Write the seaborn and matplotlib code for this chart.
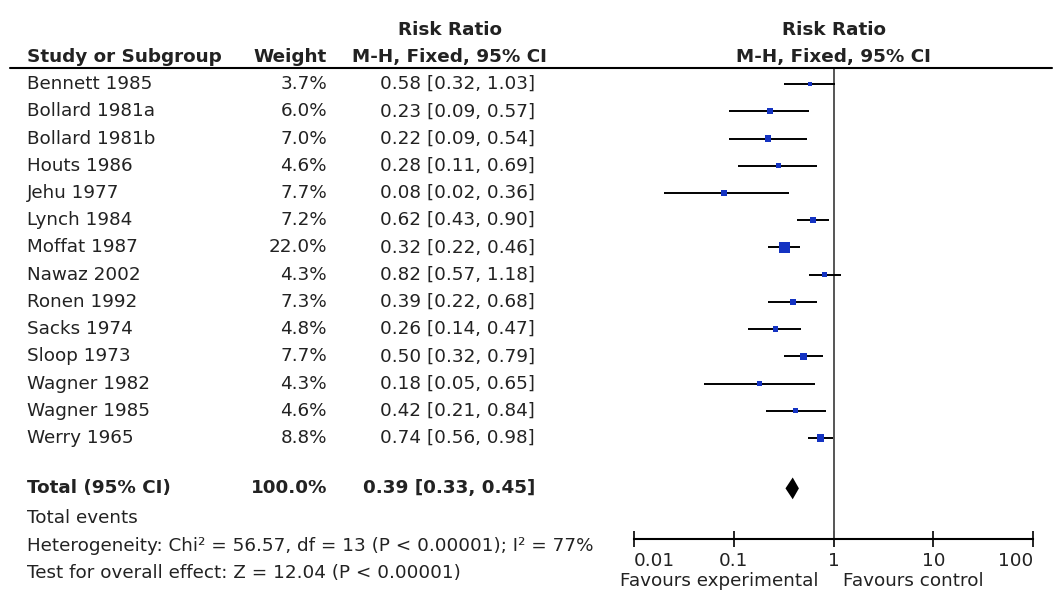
import numpy as np
import matplotlib.pyplot as plt
import matplotlib.transforms as mtransforms
from matplotlib.lines import Line2D
import pandas as pd
import seaborn as sns

# ------------------------------------------------------------
# data
# ------------------------------------------------------------
studies = ["Bennett 1985", "Bollard 1981a", "Bollard 1981b", "Houts 1986",
           "Jehu 1977", "Lynch 1984", "Moffat 1987", "Nawaz 2002",
           "Ronen 1992", "Sacks 1974", "Sloop 1973", "Wagner 1982",
           "Wagner 1985", "Werry 1965"]
weights = [3.7, 6.0, 7.0, 4.6, 7.7, 7.2, 22.0, 4.3, 7.3, 4.8, 7.7, 4.3, 4.6, 8.8]
rr = [0.58, 0.23, 0.22, 0.28, 0.08, 0.62, 0.32, 0.82, 0.39, 0.26, 0.50, 0.18, 0.42, 0.74]
ci_low = [0.32, 0.09, 0.09, 0.11, 0.02, 0.43, 0.22, 0.57, 0.22, 0.14, 0.32, 0.05, 0.21, 0.56]
ci_high = [1.03, 0.57, 0.54, 0.69, 0.36, 0.90, 0.46, 1.18, 0.68, 0.47, 0.79, 0.65, 0.84, 0.98]

total_weight = 100.0
total_rr, total_low, total_high = 0.39, 0.33, 0.45

tick_values = [0.01, 0.1, 1, 10, 100]
tick_labels = ["0.01", "0.1", "1", "10", "100"]

heterogeneity = "Heterogeneity: Chi\u00b2 = 56.57, df = 13 (P < 0.00001); I\u00b2 = 77%"
overall_effect = "Test for overall effect: Z = 12.04 (P < 0.00001)"

df = pd.DataFrame({"study": studies, "weight": weights, "rr": rr,
                   "lo": ci_low, "hi": ci_high})
df["row"] = np.arange(len(df))
total_row = 14.85

# ------------------------------------------------------------
# style
# ------------------------------------------------------------
sns.set_theme(style="white")
plt.rcParams["font.family"] = ["DejaVu Sans"]
TXT = "#222222"
FS = 13.2
BLUE = "#1433c2"

W, H = 1062, 605
fig = plt.figure(figsize=(W / 100, H / 100), dpi=100)

def fx(px):
    return px / W

def fy(py):
    return 1 - py / H

ax = fig.add_axes([fx(634), fy(539), fx(1033) - fx(634), fy(68) - fy(539)])

# confidence intervals + weighted squares
ax.hlines(df["row"], df["lo"], df["hi"], color="black", lw=1.4, zorder=2)
sns.scatterplot(data=df, x="rr", y="row", size="weight", sizes=(11, 63),
                marker="s", color=BLUE, edgecolor=BLUE, linewidth=0,
                legend=False, ax=ax, zorder=3)

# pooled diamond
ax.fill([total_low, total_rr, total_high, total_rr],
        [total_row, total_row - 0.4, total_row, total_row + 0.4],
        color="black", lw=0, zorder=3)

ax.axvline(1, color="#555555", lw=1.4, zorder=1)

ax.set_xscale("log")
ax.set_xlim(0.01, 100)
ax.set_ylim((539 - 84) / 27.23, -0.59)
ax.set_xlabel("")
ax.set_ylabel("")
ax.set_yticks([])
ax.set_xticks(tick_values)
ax.set_xticklabels(tick_labels, fontsize=FS, color=TXT)
ax.xaxis.set_minor_locator(plt.NullLocator())
lbls = ax.get_xticklabels()
lbls[0].set_ha("left")
lbls[-1].set_ha("right")
ax.tick_params(axis="x", direction="inout", length=11, width=1.2,
               colors="black", labelcolor=TXT, pad=4, bottom=True)
for side in ["top", "left", "right"]:
    ax.spines[side].set_visible(False)
ax.spines["bottom"].set_color("black")
ax.spines["bottom"].set_linewidth(1.5)
ax.set_facecolor("none")

# ------------------------------------------------------------
# table text
# ------------------------------------------------------------
trans = mtransforms.blended_transform_factory(fig.transFigure, ax.transData)

fig.text(fx(450), fy(30), "Risk Ratio", ha="center", va="center",
         fontsize=FS, fontweight="bold", color=TXT)
fig.text(fx(450), fy(57), "M-H, Fixed, 95% CI", ha="center", va="center",
         fontsize=FS, fontweight="bold", color=TXT)
fig.text(fx(834), fy(30), "Risk Ratio", ha="center", va="center",
         fontsize=FS, fontweight="bold", color=TXT)
fig.text(fx(834), fy(57), "M-H, Fixed, 95% CI", ha="center", va="center",
         fontsize=FS, fontweight="bold", color=TXT)
fig.text(fx(27), fy(57), "Study or Subgroup", ha="left", va="center",
         fontsize=FS, fontweight="bold", color=TXT)
fig.text(fx(327), fy(57), "Weight", ha="right", va="center",
         fontsize=FS, fontweight="bold", color=TXT)

fig.add_artist(Line2D([fx(10), fx(1052)], [fy(68), fy(68)],
                      color="black", lw=1.5))

for _, r in df.iterrows():
    fig.text(fx(27), r["row"], r["study"], transform=trans, ha="left",
             va="center", fontsize=FS, color=TXT)
    fig.text(fx(327), r["row"], f"{r['weight']:.1f}%", transform=trans,
             ha="right", va="center", fontsize=FS, color=TXT)
    fig.text(fx(535), r["row"], f"{r['rr']:.2f} [{r['lo']:.2f}, {r['hi']:.2f}]",
             transform=trans, ha="right", va="center", fontsize=FS, color=TXT)

fig.text(fx(27), total_row, "Total (95% CI)", transform=trans, ha="left",
         va="center", fontsize=FS, fontweight="bold", color=TXT)
fig.text(fx(327), total_row, f"{total_weight:.1f}%", transform=trans,
         ha="right", va="center", fontsize=FS, fontweight="bold", color=TXT)
fig.text(fx(535), total_row, f"{total_rr:.2f} [{total_low:.2f}, {total_high:.2f}]",
         transform=trans, ha="right", va="center", fontsize=FS,
         fontweight="bold", color=TXT)

fig.text(fx(27), fy(518), "Total events", ha="left", va="center",
         fontsize=FS, color=TXT)
fig.text(fx(27), fy(546), heterogeneity, ha="left", va="center",
         fontsize=FS, color=TXT)
fig.text(fx(27), fy(573), overall_effect, ha="left", va="center",
         fontsize=FS, color=TXT)

fig.text(fx(818), fy(581), "Favours experimental", ha="right", va="center",
         fontsize=FS, color=TXT)
fig.text(fx(843), fy(581), "Favours control", ha="left", va="center",
         fontsize=FS, color=TXT)

fig.savefig("out.png", dpi=100, facecolor="white")
